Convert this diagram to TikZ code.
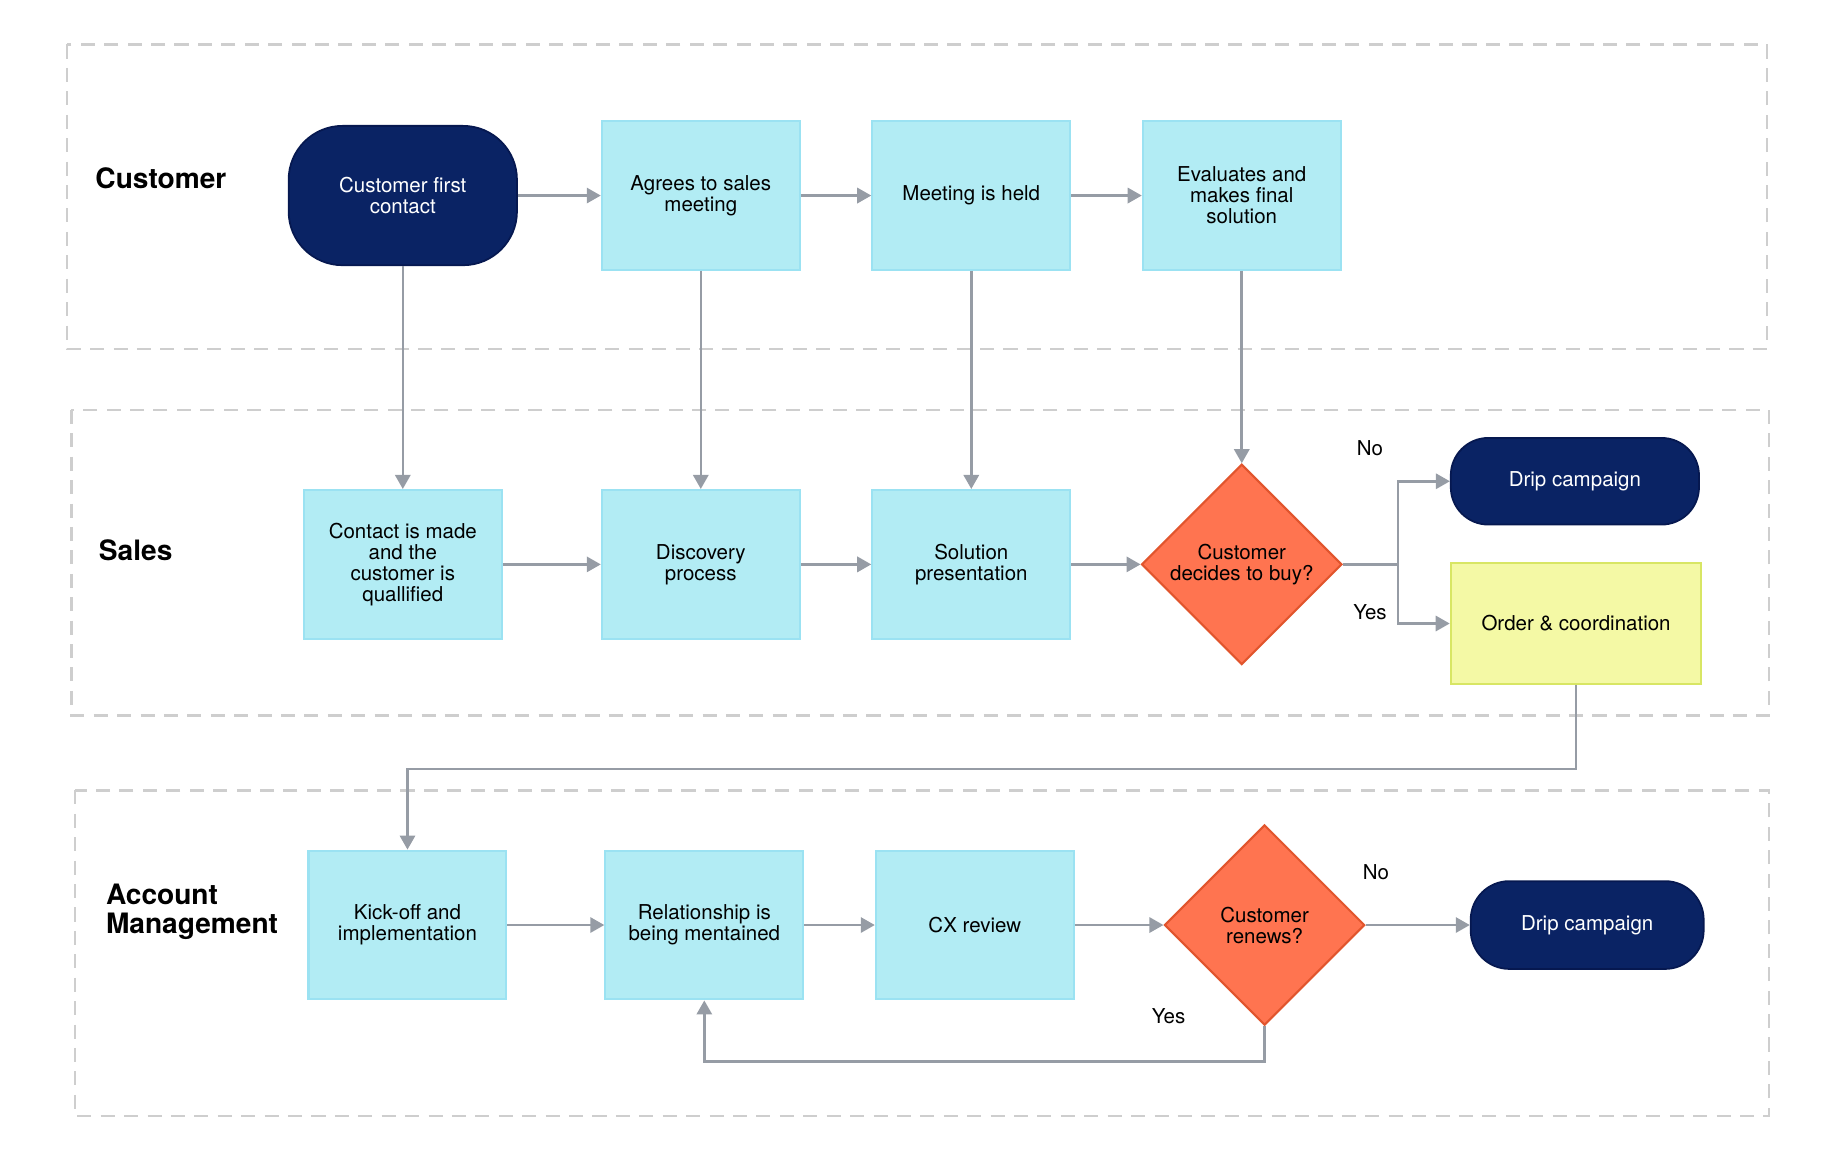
\documentclass[tikz,border=0pt]{standalone}
\usepackage{fontspec}
\setmainfont{TeX Gyre Heros}
\usetikzlibrary{shapes.geometric,arrows.meta}
\definecolor{navy}{RGB}{10,35,100}
\definecolor{navyline}{RGB}{6,24,80}
\definecolor{cyanfill}{RGB}{178,236,244}
\definecolor{cyanline}{RGB}{155,226,242}
\definecolor{orangefill}{RGB}{255,116,80}
\definecolor{orangeline}{RGB}{225,85,45}
\definecolor{yelfill}{RGB}{244,249,165}
\definecolor{yelline}{RGB}{216,230,100}
\definecolor{conn}{RGB}{150,156,165}
\definecolor{lanecol}{RGB}{206,206,206}
\begin{document}
\begin{tikzpicture}[x=1pt,y=-1pt,
  every node/.style={font=\fontsize{17.5}{18}\selectfont, align=center},
  lane/.style={draw=lanecol, line width=2pt, dash pattern=on 12pt off 8pt},
  lanelabel/.style={anchor=west, font=\fontsize{24}{25}\selectfont\bfseries, align=left},
  procbox/.style={rectangle, draw=cyanline, fill=cyanfill, line width=1.8pt, minimum width=169pt, minimum height=127pt, inner sep=0pt},
  term/.style={rectangle, draw=navyline, fill=navy, text=white, line width=1.5pt, inner sep=0pt},
  decision/.style={diamond, draw=orangeline, fill=orangefill, line width=1.8pt, minimum width=171pt, minimum height=171pt, aspect=1, inner sep=0pt},
  orderbox/.style={rectangle, draw=yelline, fill=yelfill, line width=1.8pt, minimum width=214pt, minimum height=103pt, inner sep=0pt},
  arr/.style={draw=conn, line width=2.2pt, -{Triangle[length=12pt,width=13pt]}},
  lbl/.style={font=\fontsize{17.5}{18}\selectfont}
]
\useasboundingbox (0,0) rectangle (1568,1004);
% lanes
\draw[lane] (57,38) rectangle (1509,298);
\draw[lane] (61,350) rectangle (1511,611);
\draw[lane] (64,675) rectangle (1511,953);
\node[lanelabel] (lcust) at (78,152) {Customer};
\node[lanelabel] (lsales) at (81,470) {Sales};
\node[lanelabel] (lacct) at (87,779) {Account\\Management};
% row 1
\node[term, minimum width=195pt, minimum height=119pt, rounded corners=46pt] (c1) at (344,167) {Customer first\\contact};
\node[procbox] (a) at (598.5,167) {Agrees to sales\\meeting};
\node[procbox] (m) at (829.5,167) {Meeting is held};
\node[procbox] (e) at (1060.5,167) {Evaluates and\\makes final\\solution};
% row 2
\node[procbox] (cm) at (344,482) {Contact is made\\and the\\customer is\\quallified};
\node[procbox] (d) at (598.5,482) {Discovery\\process};
\node[procbox] (s) at (829.5,482) {Solution\\presentation};
\node[decision] (dec1) at (1060.5,482) {Customer\\decides to buy?};
\node[term, minimum width=212pt, minimum height=74pt, rounded corners=32pt] (drip1) at (1345,411) {Drip campaign};
\node[orderbox] (order) at (1346,532.5) {Order \& coordination};
% row 3
\node[procbox] (k) at (348,790) {Kick-off and\\implementation};
\node[procbox] (r) at (601.5,790) {Relationship is\\being mentained};
\node[procbox] (cx) at (832.5,790) {CX review};
\node[decision] (dec2) at (1080,790) {\raisebox{2pt}{\parbox{120pt}{\centering Customer\\renews?}}};
\node[term, minimum width=199pt, minimum height=75pt, rounded corners=33pt] (drip2) at (1355.5,790) {Drip campaign};
% connectors row 1
\draw[arr] (c1) -- (a);
\draw[arr] (a) -- (m);
\draw[arr] (m) -- (e);
% vertical
\draw[arr] (c1) -- (cm);
\draw[arr] (a) -- (d);
\draw[arr] (m) -- (s);
\draw[arr] (e) -- (dec1);
% row 2
\draw[arr] (cm) -- (d);
\draw[arr] (d) -- (s);
\draw[arr] (s) -- (dec1);
\draw[arr] (dec1.east) -- ++(47,0) |- (drip1.west);
\draw[arr] (dec1.east) -- ++(47,0) |- (order.west);
\node[lbl] (no1) at (1170,383) {No};
\node[lbl] (yes1) at (1170,523) {Yes};
% order to kickoff
\draw[arr] (order.south) -- ++(0,72) -| (k.north);
% row 3
\draw[arr] (k) -- (r);
\draw[arr] (r) -- (cx);
\draw[arr] (cx) -- (dec2);
\draw[arr] (dec2) -- (drip2);
\draw[arr] (dec2.south) -- ++(0,30) -| (r.south);
\node[lbl] (no2) at (1175,745) {No};
\node[lbl] (yes2) at (998,868) {Yes};
\end{tikzpicture}
\end{document}
